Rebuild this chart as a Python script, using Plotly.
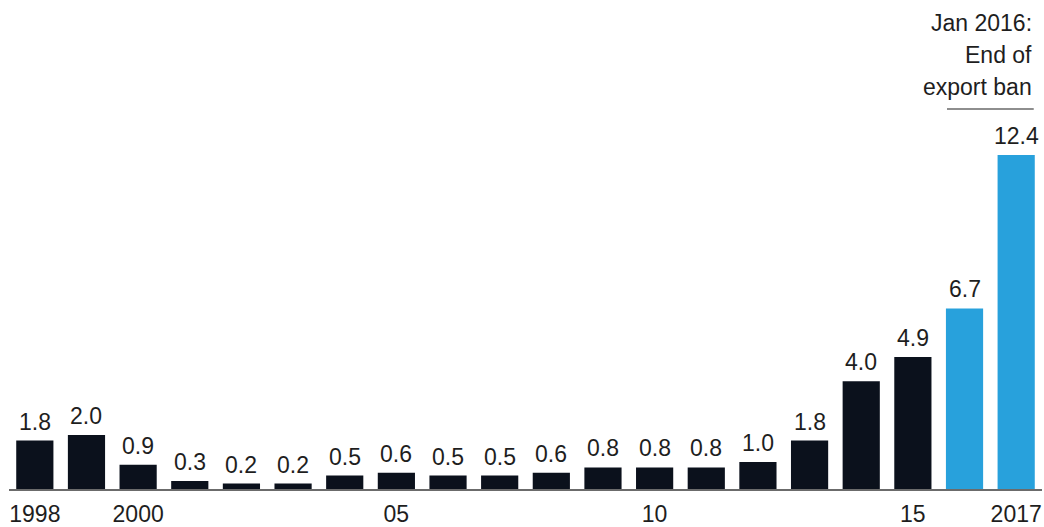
import plotly.graph_objects as go

years = [str(y) for y in range(1998, 2018)]
values = [1.8, 2.0, 0.9, 0.3, 0.2, 0.2, 0.5, 0.6, 0.5, 0.5, 0.6, 0.8, 0.8, 0.8, 1.0, 1.8, 4.0, 4.9, 6.7, 12.4]
value_labels = [f"{v:.1f}" for v in values]
tick_years = ["1998", "2000", "2005", "2010", "2015", "2017"]
tick_text = ["1998", "2000", "05", "10", "15", "2017"]
note_lines = ["Jan 2016:", "End of", "export ban"]

DARK = "#0b111c"
BLUE = "#28a1dc"
colors = [BLUE if int(y) >= 2016 else DARK for y in years]
FONT = "Liberation Sans, Arial, sans-serif"
FS = 23
TXT = "#1e1e1e"

fig = go.Figure(go.Bar(x=years, y=values, marker=dict(color=colors, line=dict(width=0)),
                       hoverinfo="skip"))

for i, (v, t) in enumerate(zip(values, value_labels)):
    fig.add_annotation(x=i, y=v, text=t, showarrow=False, yanchor="bottom", yshift=4,
                       font=dict(size=FS, color=TXT, family=FONT))

for i, line in enumerate(note_lines):
    fig.add_annotation(x=19.34, xref="x", y=1, yref="paper", xanchor="right", yanchor="middle",
                       yshift=-23 - 32 * i, text=line, showarrow=False,
                       font=dict(size=FS, color=TXT, family=FONT))

fig.add_shape(type="line", xref="x", yref="paper", x0=17.66, x1=19.34,
              y0=1 - 109 / 489, y1=1 - 109 / 489, line=dict(color=TXT, width=1.2))

fig.update_layout(
    width=1044, height=527,
    margin=dict(l=9, r=2, t=0, b=38),
    plot_bgcolor="white", paper_bgcolor="white",
    bargap=0.28, showlegend=False, hovermode=False,
    font=dict(family=FONT, size=FS, color=TXT),
    xaxis=dict(type="category", range=[-0.5, 19.5], tickmode="array",
               tickvals=tick_years, ticktext=tick_text, ticks="", ticklabelstandoff=3,
               showline=True, linecolor="#6b6b6b", linewidth=2, showgrid=False,
               fixedrange=True,
               tickfont=dict(size=FS, color=TXT, family=FONT)),
    yaxis=dict(range=[0, 18.15], visible=False, showgrid=False, zeroline=False,
               fixedrange=True),
)

fig.write_html("out.html", config={"displayModeBar": False},
               post_script="document.body.style.margin='0';document.body.style.overflow='hidden';")
